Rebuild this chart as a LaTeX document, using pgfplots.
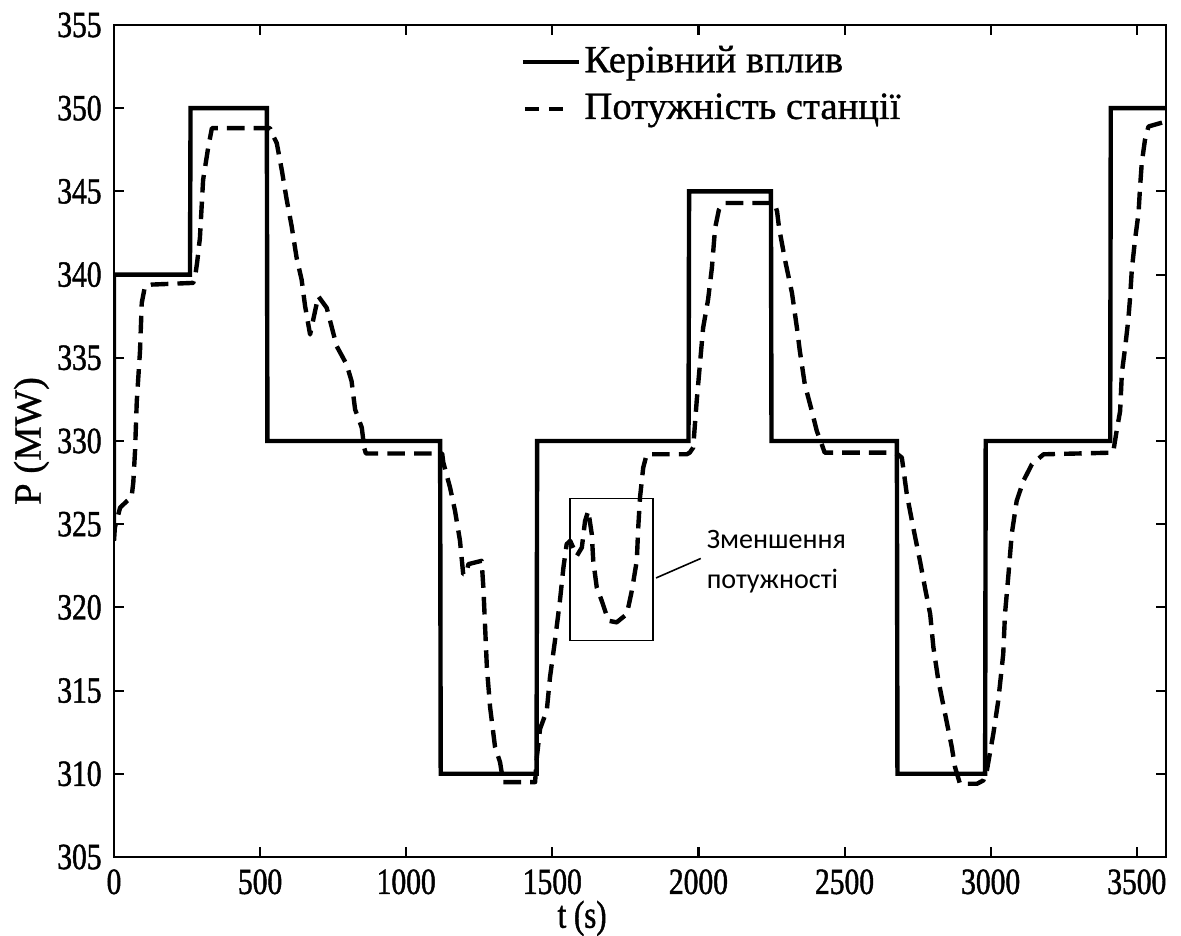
\documentclass[border=0pt]{standalone}
\usepackage{fontspec}
\setmainfont{Liberation Serif}[FakeStretch=0.8, FakeBold=1.2]
\newfontfamily\legfont{Liberation Serif}[FakeBold=0.8]
\newfontfamily\annfont{Carlito}
\usepackage{pgfplots}
\pgfplotsset{compat=1.18}

\begin{document}
\begin{tikzpicture}
\begin{axis}[
    name=ax, at={(0,0)}, anchor=south west,
    scale only axis,
    width=10.52cm, height=8.32cm,
    xmin=0, xmax=3600,
    ymin=305, ymax=355,
    xtick={0,500,...,3500},
    ytick={305,310,...,355},
    tick align=inside,
    major tick length=2.8pt,
    axis line style={line width=0.7pt},
    every tick/.style={black, line width=0.6pt},
    ticklabel style={font=\fontsize{10.5}{12}\selectfont},
    /pgf/number format/assume math mode=true,
    /pgf/number format/1000 sep={},
    xlabel={t (s)},
    ylabel={\legfont P (MW)},
    xlabel style={at={(ticklabel cs:0.445)}, anchor=north, font=\fontsize{11}{12}\selectfont, yshift=5pt},
    ylabel style={font=\fontsize{11}{12}\selectfont, yshift=-4.5pt},
    legend style={draw=none, fill=none, at={(axis cs:1389,354.0)}, anchor=north west,
        inner sep=0pt, row sep=2.5pt, nodes={inner sep=1pt},
        font=\legfont\fontsize{11}{12}\selectfont},
    legend cell align=left,
    legend image code/.code={\draw[#1] (0cm,0cm) -- (0.56cm,0cm);},
]
% control signal
\addplot[black, line width=1.25pt, line join=miter] coordinates {
    (0,324.5) (0,340) (260,340) (262,350) (523,350) (525,330)
    (1116,330) (1118,310) (1446,310) (1448,330) (1966,330) (1968,345)
    (2248,345) (2250,330) (2679,330) (2681,310) (2981,310) (2983,330)
    (3409,330) (3411,350) (3600,350)
};
\addlegendentry{\legfont Керівний вплив}
% station power
\addplot[black, line width=1.25pt, dash pattern=on 5pt off 2.6pt, line join=round,
    legend image code/.code={\draw[black, line width=1.25pt] (0.02cm,0cm) -- (0.16cm,0cm) (0.26cm,0cm) -- (0.40cm,0cm);}]
    coordinates {
    (0,324.0) (3,324.8) (21,326.0) (45,326.4) (60,326.6) (66,327.5)
    (72,329.4) (78,332.4) (89,335.4) (95,338.3) (106,339.3) (130,339.4)
    (271,339.5) (277,339.8) (285,340.8) (294,342.2) (305,345.7) (322,347.6)
    (335,348.8) (534,348.8) (540,348.5) (557,347.9) (574,346.3) (591,344.5)
    (608,342.9) (625,341.0) (642,339.7) (654,338.1) (671,336.4) (688,337.8)
    (699,338.7) (728,338.0) (762,335.7) (796,334.6) (813,333.6) (825,331.9)
    (848,330.8) (856,329.6) (862,329.25) (1123,329.25) (1127,328.7) (1150,327.2)
    (1167,325.8) (1184,324.0) (1195,322.0) (1205,322.0) (1213,322.6) (1258,322.8)
    (1264,321.2) (1270,318.8) (1276,316.4) (1287,314.0) (1304,311.6) (1321,310.7)
    (1332,309.5) (1441,309.5) (1447,311.0) (1458,312.7) (1481,313.8) (1492,315.8)
    (1509,318.0) (1526,320.4) (1538,322.4) (1549,323.8) (1561,324.0) (1584,323.1)
    (1601,323.6) (1612,325.2) (1623,325.8) (1635,324.4) (1640,322.8) (1652,321.2)
    (1669,320.4) (1692,319.2) (1720,319.1) (1755,319.6) (1772,321.0) (1789,322.8)
    (1794,324.8) (1800,326.6) (1811,328.4) (1823,329.2) (1960,329.2) (1970,329.3)
    (1982,329.6) (1994,332.4) (2006,334.8) (2016,336.8) (2033,338.5) (2046,340.4)
    (2057,342.8) (2070,343.9) (2080,344.2) (2090,344.3) (2245,344.3) (2262,344.2)
    (2269,343.8) (2276,342.8) (2296,340.9) (2320,338.9) (2337,336.8) (2347,335.4)
    (2364,333.4) (2388,331.8) (2405,330.6) (2422,329.8) (2432,329.3) (2666,329.3)
    (2682,329.2) (2696,329.0) (2713,326.8) (2735,324.8) (2758,322.8) (2775,321.2)
    (2793,319.6) (2804,317.6) (2821,315.6) (2844,313.6) (2867,311.6) (2878,310.4)
    (2895,309.4) (2953,309.4) (2975,309.6) (2987,310.2) (3009,312.4) (3026,314.4)
    (3043,317.2) (3049,319.6) (3061,322.0) (3072,324.4) (3089,326.4) (3112,327.6)
    (3141,328.6) (3181,329.2) (3419,329.3) (3431,330.6) (3443,331.8) (3449,334.1)
    (3460,335.6) (3471,337.3) (3477,338.6) (3483,340.3) (3494,342.1) (3506,343.7)
    (3511,345.2) (3517,346.7) (3528,348.1) (3540,348.9) (3580,349.1) (3600,349.2)
};
\addlegendentry{\legfont Потужність станції}
% annotation
\draw[line width=0.45pt] (axis cs:1561,318) rectangle (axis cs:1845,326.55);
\draw[line width=0.45pt] (axis cs:1855,321.77) -- (axis cs:2008,322.94);
\node[anchor=west, align=left, inner sep=0pt,
      font=\annfont\fontsize{8}{11.4}\selectfont]
      at (axis cs:2026,322.73) {Зменшення\\потужності};
\end{axis}
\pgfresetboundingbox
\path ([shift={(-11.4mm,-7.9mm)}]ax.south west) rectangle ([shift={(1.5mm,2.5mm)}]ax.north east);
\end{tikzpicture}
\end{document}
